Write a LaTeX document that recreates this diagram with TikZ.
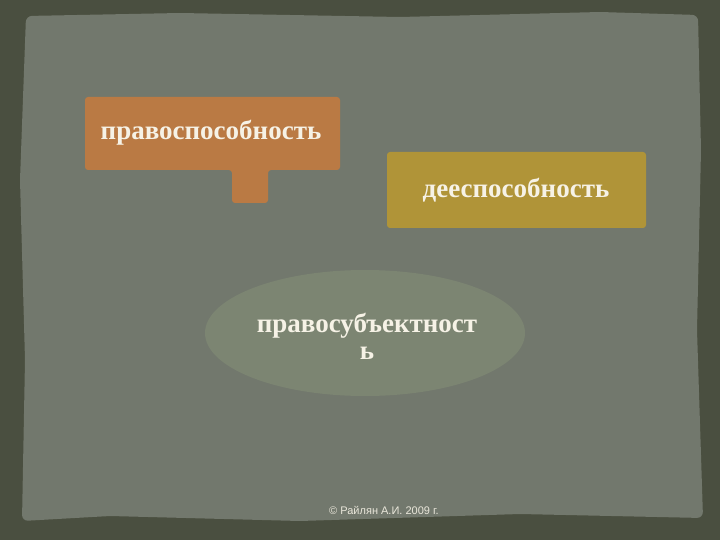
\documentclass[tikz,border=0pt]{standalone}
\usepackage{fontspec}
\setmainfont{Liberation Serif}
\newfontfamily\footfont{Liberation Sans}
\definecolor{frameolive}{RGB}{74,79,64}
\definecolor{slate}{RGB}{114,120,109}
\definecolor{boxorange}{RGB}{186,122,68}
\definecolor{boxgold}{RGB}{176,148,56}
\definecolor{ovalgreen}{RGB}{124,133,114}
\definecolor{textcream}{RGB}{246,242,230}

\begin{document}
\begin{tikzpicture}[x=1pt,y=-1pt,
  labeltext/.style={text=textcream,font=\bfseries\fontsize{27}{27}\selectfont,inner sep=0pt},
  foottext/.style={text=textcream!90!slate,font=\footfont\fontsize{11}{12}\selectfont,inner sep=0pt}]
\useasboundingbox (0,0) rectangle (720,540);
\fill[frameolive] (0,0) rectangle (720,540); % outer frame
\fill[slate,rounded corners=6pt] (26,16) -- (180,13) -- (400,17) -- (600,12) -- (698,15)
  -- (701,150) -- (697,330) -- (703,518) -- (520,514) -- (300,521) -- (110,516) -- (22,521)
  -- (25,360) -- (20,180) -- cycle; % slide sheet

% left box with tab
\fill[boxorange,rounded corners=3pt] (85,97) -- (340,97) -- (340,170) -- (268,170)
  -- (268,203) -- (232,203) -- (232,170) -- (85,170) -- cycle;
\node[labeltext] (legal) at (211,133) {правоспособность};

% right box
\fill[boxgold,rounded corners=3pt] (387,152) rectangle (646,228);
\node[labeltext] (active) at (516,190) {дееспособность};

% oval
\fill[ovalgreen] (365,333) ellipse [x radius=160, y radius=63];
\node[labeltext,align=center] (subject) at (367,336) {правосубъектност\\ь};

\node[foottext] (footer) at (384,510) {© Райлян А.И. 2009 г.};
\end{tikzpicture}
\end{document}
